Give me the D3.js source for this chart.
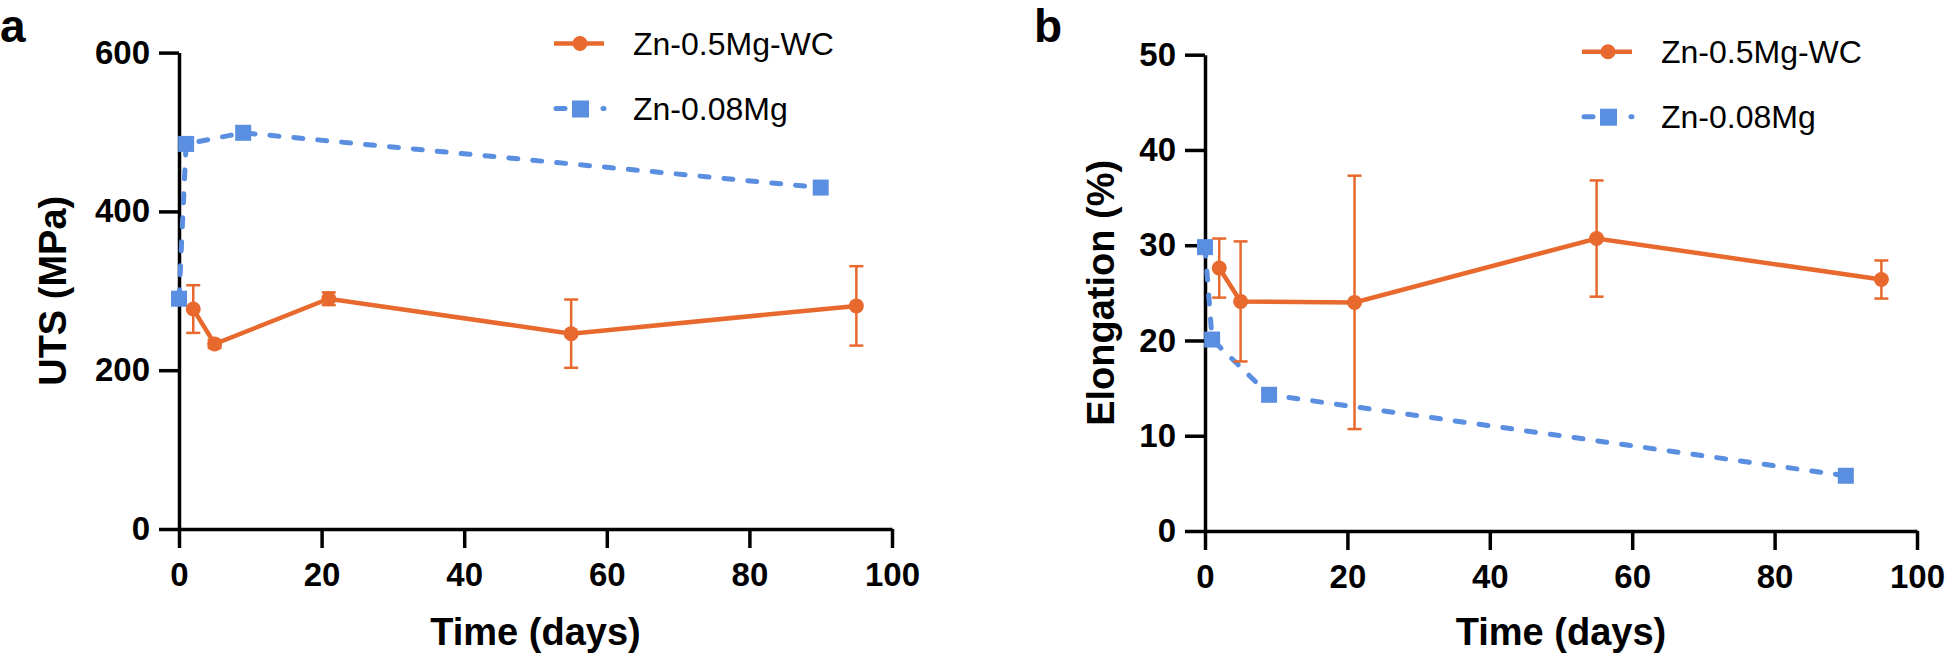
<!DOCTYPE html>
<html>
<head>
<meta charset="utf-8">
<title>UTS and elongation vs time</title>
<script src="https://d3js.org/d3.v7.min.js"></script>
<style>
  body { margin: 0; background: #fff; }
  svg { display: block; font-family: Arial, "Liberation Sans", sans-serif; }
</style>
</head>
<body>
<div id="chart"></div>
<script>
// ---- data ----
var seriesNames = ["Zn-0.5Mg-WC", "Zn-0.08Mg"];
var xTicks = [0, 20, 40, 60, 80, 100];

var daysWC = [2, 5, 21, 55, 95];
var daysMg = [0, 1, 9, 90];

// panel a: UTS (MPa)
var utsWC = [277, 233, 290, 246, 281];
var utsWCErr = [30, 5, 8, 43, 50];
var utsMg = [290, 485, 499, 430];
var utsTicks = [0, 200, 400, 600];

// panel b: Elongation (%)
var elongWC = [27.6, 24.1, 24.0, 30.7, 26.4];
var elongWCErr = [3.1, 6.3, 13.3, 6.1, 2.0];
var elongMg = [29.8, 20.1, 14.3, 5.8];
var elongTicks = [0, 10, 20, 30, 40, 50];

var orange = "#e8692d";
var blue = "#5a8ee0";

var svg = d3.select("#chart").append("svg")
    .attr("width", 1950)
    .attr("height", 659);

function drawPanel(p) {
  var x = d3.scaleLinear().domain([0, 100]).range([p.left, p.right]);
  var y = d3.scaleLinear().domain(p.yDomain).range([p.bottom, p.top]);
  var g = svg.append("g");

  // axes
  var xAxis = g.append("g")
      .attr("transform", "translate(0," + p.bottom + ")")
      .call(d3.axisBottom(x).tickValues(xTicks).tickSize(19).tickSizeOuter(0).tickPadding(15));
  var yAxis = g.append("g")
      .attr("transform", "translate(" + p.left + ",0)")
      .call(d3.axisLeft(y).tickValues(p.yTicks).tickSize(20).tickSizeOuter(0).tickPadding(9));

  [xAxis, yAxis].forEach(function(a) {
    a.select(".domain").attr("stroke", "#000").attr("stroke-width", 3.5);
    a.selectAll(".tick line").attr("stroke", "#000").attr("stroke-width", 3.5);
    a.selectAll(".tick text")
      .attr("fill", "#000")
      .style("font-size", "33px")
      .style("font-weight", "bold")
      .style("font-family", "Arial, 'Liberation Sans', sans-serif");
  });

  // axis titles
  g.append("text")
    .attr("x", (p.left + p.right) / 2)
    .attr("y", 645)
    .attr("text-anchor", "middle")
    .style("font-size", "38px")
    .style("font-weight", "bold")
    .text("Time (days)");

  g.append("text")
    .attr("transform", "translate(" + p.yLabelX + "," + ((p.top + p.bottom) / 2) + ") rotate(-90)")
    .attr("text-anchor", "middle")
    .style("font-size", "38px")
    .style("font-weight", "bold")
    .text(p.yLabel);

  // panel letter
  g.append("text")
    .attr("x", p.letterX)
    .attr("y", 42)
    .style("font-size", "46px")
    .style("font-weight", "bold")
    .text(p.letter);

  // Zn-0.08Mg dashed line with squares
  var mgData = daysMg.map(function(d, i) { return {t: d, v: p.mg[i]}; });
  var line = d3.line()
      .x(function(d) { return x(d.t); })
      .y(function(d) { return y(d.v); });

  g.append("path")
    .datum(mgData)
    .attr("d", line)
    .attr("fill", "none")
    .attr("stroke", blue)
    .attr("stroke-width", 5)
    .attr("stroke-linecap", "round")
    .attr("stroke-dasharray", "9,15");

  g.selectAll(".sq")
    .data(mgData)
    .enter().append("rect")
    .attr("x", function(d) { return x(d.t) - 8; })
    .attr("y", function(d) { return y(d.v) - 8; })
    .attr("width", 16)
    .attr("height", 16)
    .attr("fill", blue);

  // Zn-0.5Mg-WC solid line with error bars
  var wcData = daysWC.map(function(d, i) { return {t: d, v: p.wc[i], e: p.wcErr[i]}; });

  var eb = g.selectAll(".err")
    .data(wcData)
    .enter().append("g")
    .attr("stroke", orange)
    .attr("stroke-width", 2.5);
  eb.append("line")
    .attr("x1", function(d) { return x(d.t); })
    .attr("x2", function(d) { return x(d.t); })
    .attr("y1", function(d) { return y(d.v - d.e); })
    .attr("y2", function(d) { return y(d.v + d.e); });
  eb.append("line")
    .attr("x1", function(d) { return x(d.t) - 7; })
    .attr("x2", function(d) { return x(d.t) + 7; })
    .attr("y1", function(d) { return y(d.v + d.e); })
    .attr("y2", function(d) { return y(d.v + d.e); });
  eb.append("line")
    .attr("x1", function(d) { return x(d.t) - 7; })
    .attr("x2", function(d) { return x(d.t) + 7; })
    .attr("y1", function(d) { return y(d.v - d.e); })
    .attr("y2", function(d) { return y(d.v - d.e); });

  g.append("path")
    .datum(wcData)
    .attr("d", line)
    .attr("fill", "none")
    .attr("stroke", orange)
    .attr("stroke-width", 4.5);

  g.selectAll(".dot")
    .data(wcData)
    .enter().append("circle")
    .attr("cx", function(d) { return x(d.t); })
    .attr("cy", function(d) { return y(d.v); })
    .attr("r", 7.5)
    .attr("fill", orange);

  // legend
  var lg = g.append("g").attr("transform", "translate(" + p.legX + "," + p.legY + ")");
  lg.append("line").attr("x1", 0).attr("x2", 50).attr("y1", 0).attr("y2", 0)
    .attr("stroke", orange).attr("stroke-width", 4.5);
  lg.append("circle").attr("cx", 26).attr("cy", 0).attr("r", 7.5).attr("fill", orange);
  lg.append("line").attr("x1", 2).attr("x2", 50).attr("y1", 65).attr("y2", 65)
    .attr("stroke", blue).attr("stroke-width", 5)
    .attr("stroke-linecap", "round").attr("stroke-dasharray", "9,38");
  lg.append("rect").attr("x", 18).attr("y", 57).attr("width", 17).attr("height", 17).attr("fill", blue);
  lg.selectAll(".lt")
    .data(seriesNames)
    .enter().append("text")
    .attr("x", 79)
    .attr("y", function(d, i) { return i * 65 + 11.5; })
    .style("font-size", "32px")
    .text(function(d) { return d; });
}

drawPanel({
  letter: "a", letterX: 0,
  left: 179, right: 892, top: 52.6, bottom: 529,
  yDomain: [0, 600], yTicks: utsTicks, yLabel: "UTS (MPa)", yLabelX: 66,
  wc: utsWC, wcErr: utsWCErr, mg: utsMg,
  legX: 554, legY: 43.5
});

drawPanel({
  letter: "b", letterX: 1034,
  left: 1205, right: 1917, top: 54.7, bottom: 531,
  yDomain: [0, 50], yTicks: elongTicks, yLabel: "Elongation (%)", yLabelX: 1114,
  wc: elongWC, wcErr: elongWCErr, mg: elongMg,
  legX: 1582, legY: 51.7
});
</script>
</body>
</html>
